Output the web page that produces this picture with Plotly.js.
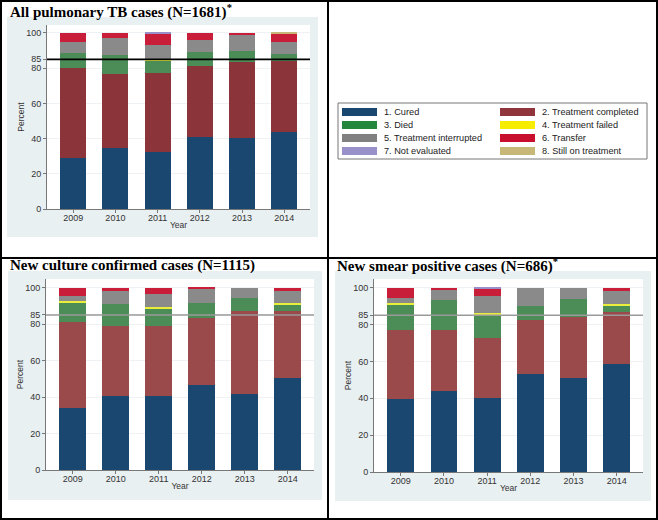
<!DOCTYPE html>
<html><head><meta charset="utf-8">
<script src="https://cdn.plot.ly/plotly-3.0.1.min.js"></script>
<style>html,body{margin:0;padding:0;background:#fff}#chart{width:658px;height:520px}</style>
</head><body><div id="chart"></div>
<script>
// ---------- DATA ----------
const years = [2009, 2010, 2011, 2012, 2013, 2014];
const yearLabels = ['2009', '2010', '2011', '2012', '2013', '2014'];
const outcomes = ['1. Cured', '2. Treatment completed', '3. Died', '4. Treatment failed',
                  '5. Treatment interrupted', '6. Transfer', '7. Not evaluated', '8. Still on treatment'];
const yTickVals = [0, 20, 40, 60, 80, 85, 100];
const targetPercent = 85;
const panelTitles = ['All pulmonary TB cases (N=1681)<sup>*</sup>',
                     'New culture confirmed cases (N=1115)',
                     'New smear positive cases (N=686)<sup>*</sup>'];

// Panel 1: all pulmonary TB cases
const allCured        = [28.8, 34.7, 32.2, 40.7, 40.2, 43.6];
const allCompleted    = [51.5, 41.7, 45.0, 40.5, 43.3, 40.5];
const allDied         = [8.4, 11.3, 7.2, 7.9, 6.3, 4.0];
const allFailed       = [0, 0, 0.3, 0, 0, 0];
const allInterrupted  = [5.9, 9.2, 8.2, 6.9, 9.1, 6.5];
const allTransfer     = [5.4, 3.1, 6.6, 4.0, 1.1, 4.9];
const allNotEvaluated = [0, 0, 0.5, 0, 0, 0];
const allStill        = [0, 0, 0, 0, 0, 0.5];

// Panel 2: new culture confirmed cases
const culCured        = [33.8, 40.5, 40.7, 46.4, 41.8, 50.5];
const culCompleted    = [47.2, 38.5, 38.1, 36.8, 45.2, 36.4];
const culDied         = [10.6, 11.9, 9.5, 8.2, 7.2, 3.6];
const culFailed       = [0.9, 0, 1.3, 0, 0, 0.9];
const culInterrupted  = [3.1, 7.1, 6.8, 7.9, 5.8, 6.6];
const culTransfer     = [4.4, 2.0, 3.6, 0.7, 0, 2.0];
const culNotEvaluated = [0, 0, 0, 0, 0, 0];
const culStill        = [0, 0, 0, 0, 0, 0];

// Panel 3: new smear positive cases
const smCured         = [39.6, 43.9, 40.0, 53.3, 51.2, 58.6];
const smCompleted     = [37.3, 33.1, 32.9, 29.3, 32.9, 28.4];
const smDied          = [13.5, 16.3, 11.7, 7.6, 9.8, 3.2];
const smFailed        = [1.1, 0, 1.7, 0, 0, 0.8];
const smInterrupted   = [2.9, 5.8, 9.0, 9.8, 6.1, 7.0];
const smTransfer      = [5.6, 0.9, 4.0, 0, 0, 2.0];
const smNotEvaluated  = [0, 0, 0.7, 0, 0, 0];
const smStill         = [0, 0, 0, 0, 0, 0];

// ---------- STYLE ----------
const W = 658, H = 520;
const barColorsP1 = ['#1a476f', '#8b3439', '#4b8c57', '#e9ee3a', '#8a8a8a', '#c81e3a', '#9890c8', '#c8b878'];
const barColorsP23 = ['#1a476f', '#9a4a4b', '#4b8c57', '#e9ee3a', '#8a8a8a', '#c81e3a', '#9890c8', '#c8b878'];
const legendColors = ['#1a476f', '#90353b', '#23883e', '#f6ec00', '#808080', '#c8102e', '#9890c8', '#c8b878'];

const panels = [
  {series: [allCured, allCompleted, allDied, allFailed, allInterrupted, allTransfer, allNotEvaluated, allStill],
   colors: barColorsP1, xa: 'x', ya: 'y', lineColor: '#000000',
   plot: [47, 310, 25, 209], box: [7, 318, 17, 237], yTop: 104.5, title: [8, 11]},
  {series: [culCured, culCompleted, culDied, culFailed, culInterrupted, culTransfer, culNotEvaluated, culStill],
   colors: barColorsP23, xa: 'x2', ya: 'y2', lineColor: '#9a9a9a',
   plot: [46, 314, 279, 470], box: [8, 322, 271, 500], yTop: 104.7, title: [8, 265]},
  {series: [smCured, smCompleted, smDied, smFailed, smInterrupted, smTransfer, smNotEvaluated, smStill],
   colors: barColorsP23, xa: 'x3', ya: 'y3', lineColor: '#9a9a9a',
   plot: [374, 643, 279, 472], box: [335, 651, 271, 501], yTop: 104.7, title: [335, 265]}
];

const px = v => v / W;
const py = v => 1 - v / H;

const traces = [];
const shapes = [];
const annotations = [];
const layout = {
  width: W, height: H,
  margin: {l: 0, r: 0, t: 0, b: 0},
  paper_bgcolor: '#ffffff', plot_bgcolor: 'rgba(0,0,0,0)',
  barmode: 'stack', bargap: 0.38,
  showlegend: false,
  font: {family: 'Liberation Sans, Arial, sans-serif', color: '#333333'}
};

panels.forEach((p, i) => {
  p.series.forEach((vals, k) => {
    traces.push({
      type: 'bar', x: years, y: vals, name: outcomes[k],
      xaxis: p.xa, yaxis: p.ya,
      marker: {color: p.colors[k], line: {width: 0}},
      hoverinfo: 'name+y'
    });
  });
  const sfx = i === 0 ? '' : String(i + 1);
  layout['xaxis' + sfx] = {
    domain: [px(p.plot[0]), px(p.plot[1])], anchor: 'y' + sfx,
    range: [2008.38, 2014.61], tickvals: years, ticktext: yearLabels,
    showgrid: false, zeroline: false, showline: true, linecolor: '#777777', linewidth: 1,
    ticks: 'outside', ticklen: 3, tickcolor: '#777777', tickfont: {size: 9, color: '#333'},
    ticklabelstandoff: -3,
    title: {text: 'Year', font: {size: 8.5, color: '#333'}, standoff: 0},
    fixedrange: true
  };
  layout['yaxis' + sfx] = {
    domain: [py(p.plot[3]), py(p.plot[2])], anchor: 'x' + sfx,
    range: [0, p.yTop], tickvals: yTickVals, ticktext: yTickVals.map(String),
    showgrid: true, gridcolor: '#eef2f4', gridwidth: 1,
    zeroline: false, showline: true, linecolor: '#777777', linewidth: 1,
    ticks: 'outside', ticklen: 3, tickcolor: '#777777', tickfont: {size: 9, color: '#333'},
    title: {text: 'Percent', font: {size: 8.5, color: '#333'}, standoff: 0},
    fixedrange: true
  };
  // graph region (light bluish gray) and white plot region
  shapes.push({type: 'rect', xref: 'paper', yref: 'paper', layer: 'below',
    x0: px(p.box[0]), x1: px(p.box[1]), y0: py(p.box[3]), y1: py(p.box[2]),
    fillcolor: '#e9f0f2', line: {width: 0}});
  shapes.push({type: 'rect', xref: 'paper', yref: 'paper', layer: 'below',
    x0: px(p.plot[0]), x1: px(p.plot[1]), y0: py(p.plot[3]), y1: py(p.plot[2]),
    fillcolor: '#ffffff', line: {width: 0}});
  // 85% target line
  shapes.push({type: 'line', xref: p.xa + ' domain', yref: p.ya, layer: 'above',
    x0: 0, x1: 1, y0: targetPercent, y1: targetPercent,
    line: {color: p.lineColor, width: 1.6}});
  annotations.push({xref: 'paper', yref: 'paper', x: px(p.title[0]), y: py(p.title[1]),
    xanchor: 'left', yanchor: 'middle', showarrow: false,
    text: '<b>' + panelTitles[i] + '</b>',
    font: {family: 'Liberation Serif, Times New Roman, serif', size: 15, color: '#000'}});
});

// legend (top-right cell)
shapes.push({type: 'rect', xref: 'paper', yref: 'paper', layer: 'above',
  x0: px(338), x1: px(647), y0: py(159), y1: py(103),
  fillcolor: 'rgba(0,0,0,0)', line: {color: '#777777', width: 1}});
const legRowsY = [112, 125, 138, 151];
const legColsX = [342, 500];
outcomes.forEach((name, k) => {
  const col = k % 2, row = Math.floor(k / 2);
  const x0 = legColsX[col], yc = legRowsY[row];
  shapes.push({type: 'rect', xref: 'paper', yref: 'paper', layer: 'above',
    x0: px(x0), x1: px(x0 + 35), y0: py(yc + 4), y1: py(yc - 4),
    fillcolor: legendColors[k], line: {width: 0}});
  annotations.push({xref: 'paper', yref: 'paper', x: px(x0 + 40), y: py(yc),
    xanchor: 'left', yanchor: 'middle', showarrow: false, text: name,
    font: {family: 'Liberation Sans, Arial, sans-serif', size: 9.2, color: '#222'}});
});

// frame and dividers
shapes.push({type: 'rect', xref: 'paper', yref: 'paper', layer: 'above',
  x0: px(1), x1: px(657), y0: py(519), y1: py(1), line: {color: '#000', width: 2}});
shapes.push({type: 'line', xref: 'paper', yref: 'paper', layer: 'above',
  x0: px(328), x1: px(328), y0: 0, y1: 1, line: {color: '#000', width: 2}});
shapes.push({type: 'line', xref: 'paper', yref: 'paper', layer: 'above',
  x0: 0, x1: 1, y0: py(258), y1: py(258), line: {color: '#000', width: 2}});

layout.shapes = shapes;
layout.annotations = annotations;

Plotly.newPlot('chart', traces, layout, {displayModeBar: false, responsive: false});
</script>
</body></html>
